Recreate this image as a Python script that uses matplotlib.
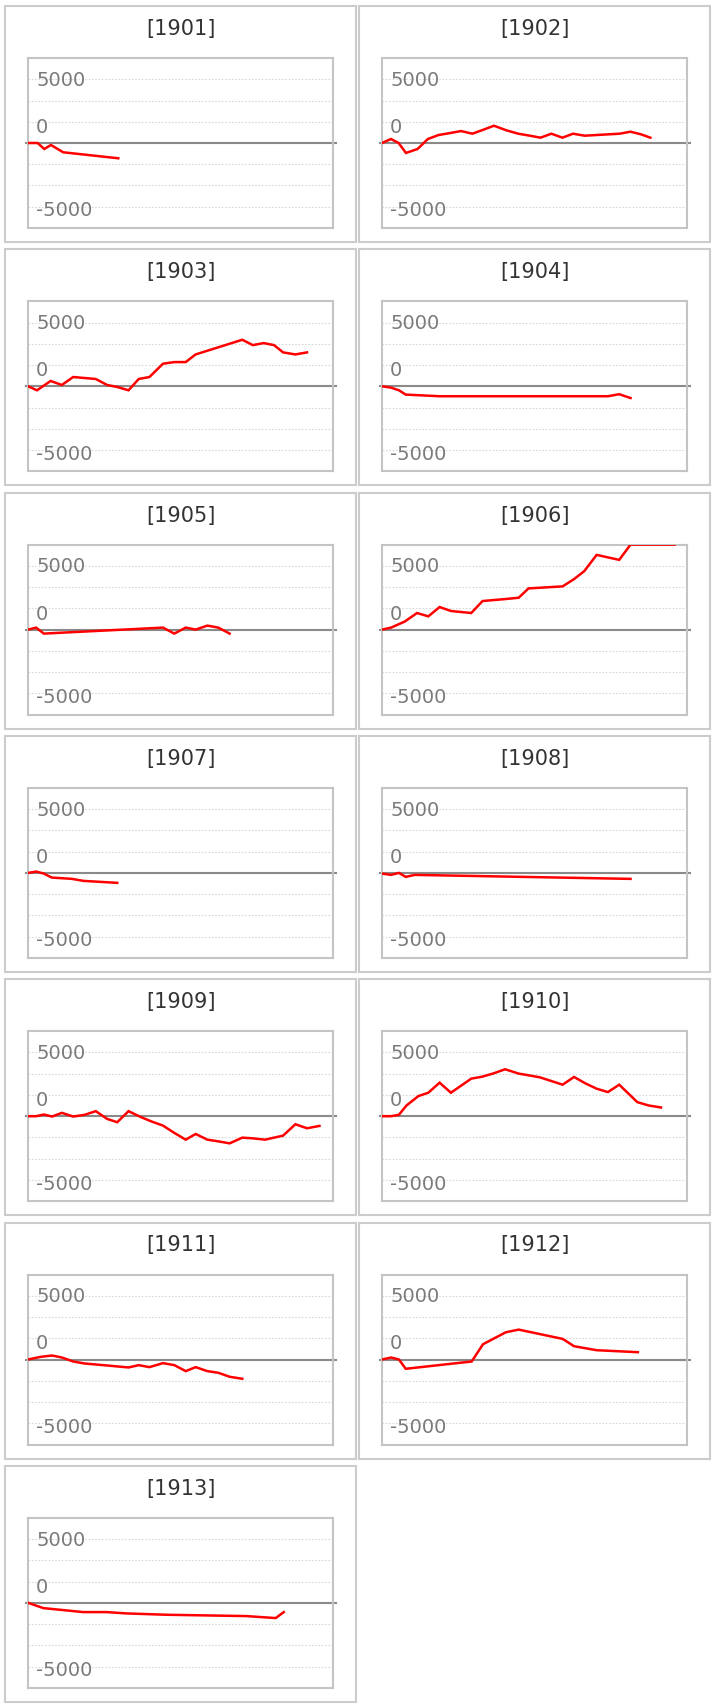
import matplotlib
matplotlib.use('Agg')
import matplotlib.pyplot as plt
from matplotlib.patches import Rectangle
import numpy as np

# ---------------- data ----------------
years = ['1901', '1902', '1903', '1904', '1905', '1906', '1907',
         '1908', '1909', '1910', '1911', '1912', '1913']

x_1901 = [0, 0.85, 1.44, 2.03, 3.12, 7.99]
y_1901 = [0, 0, -469, -156, -729, -1198]

x_1902 = [0, 0.79, 1.47, 2.12, 3.15, 4.06, 5.0, 6.03, 7.0, 8.0, 8.97, 9.91, 11.03,
          12.06, 13.09, 14.03, 15.0, 15.97, 16.91, 17.94, 18.97, 20.0, 21.03, 22.0,
          22.94, 23.76]
y_1902 = [0, 313, 0, -781, -469, 313, 625, 781, 938, 729, 1042, 1354, 990, 729,
          573, 417, 729, 417, 729, 573, 625, 677, 729, 886, 677, 417]

x_1903 = [0, 0.8, 2.0, 3.0, 4.0, 6.0, 7.0, 7.9, 8.9, 9.8, 10.75, 11.95, 12.95,
          13.96, 14.84, 18.97, 19.9, 20.86, 21.78, 22.58, 23.67, 24.7]
y_1903 = [0, -313, 417, 104, 729, 573, 104, -52, -313, 573, 729, 1771, 1900,
          1900, 2500, 3650, 3230, 3390, 3230, 2660, 2500, 2660]

x_1904 = [0, 0.8, 1.5, 2.1, 5.1, 20.0, 21.0, 22.0]
y_1904 = [0, -104, -313, -650, -780, -780, -620, -920]

x_1905 = [0, 0.72, 1.4, 11.95, 12.95, 13.96, 14.84, 15.88, 16.85, 17.85]
y_1905 = [0, 156, -313, 156, -313, 156, 0, 313, 156, -313]

x_1906 = [0, 0.8, 2.0, 3.1, 4.1, 5.1, 6.1, 7.9, 8.9, 10.96, 12.1, 12.97, 15.99,
          17.0, 17.9, 19.0, 21.0, 22.0, 23.0, 24.0, 25.0, 25.9]
y_1906 = [0, 156, 625, 1300, 1040, 1770, 1460, 1300, 2240, 2400, 2500, 3230,
          3390, 3960, 4580, 5860, 5470, 6900, 7300, 7600, 7500, 7800]

x_1907 = [0, 0.72, 1.4, 2.1, 3.9, 4.9, 7.9]
y_1907 = [0, 104, -52, -365, -469, -625, -781]

x_1908 = [0, 0.8, 1.5, 2.1, 2.9, 22.0]
y_1908 = [-52, -156, 0, -313, -156, -469]

x_1909 = [0, 0.72, 1.4, 2.13, 3.0, 4.0, 5.0, 6.0, 7.0, 7.9, 8.9, 9.95, 10.95,
          11.95, 12.96, 13.96, 14.84, 15.88, 16.85, 17.85, 18.97, 19.9, 20.98,
          22.58, 23.67, 24.7, 25.8]
y_1909 = [0, 0, 132, -26, 263, -26, 105, 395, -210, -473, 395, -52, -420, -736,
          -1315, -1841, -1394, -1841, -1973, -2130, -1683, -1736, -1841, -1525,
          -631, -947, -763]

x_1910 = [0, 0.8, 1.49, 2.17, 3.22, 4.1, 5.1, 6.1, 7.9, 8.9, 9.9, 10.9, 12.1,
          12.97, 13.97, 14.98, 15.99, 17.0, 18.0, 19.0, 20.0, 21.0, 22.6, 23.6, 24.7]
y_1910 = [0, 0, 105, 842, 1578, 1841, 2630, 1841, 2946, 3104, 3367, 3682, 3340,
          3209, 3051, 2762, 2472, 3077, 2577, 2157, 1893, 2472, 1105, 842, 684]

x_1911 = [0, 1.12, 2.13, 3.0, 4.0, 5.0, 7.0, 8.9, 9.8, 10.75, 11.95, 12.96,
          13.96, 14.84, 15.88, 16.85, 17.85, 18.97]
y_1911 = [0, 208, 313, 156, -156, -313, -469, -625, -443, -599, -287, -443,
          -912, -599, -912, -1042, -1354, -1511]

x_1912 = [0, 0.8, 1.5, 2.1, 7.94, 8.94, 10.96, 12.1, 16.0, 17.0, 19.0, 22.65]
y_1912 = [0, 156, 0, -729, -156, 1198, 2136, 2344, 1615, 1042, 729, 573]

x_1913 = [0, 1.36, 4.89, 6.96, 8.72, 12.26, 15.8, 19.33, 21.93, 22.64]
y_1913 = [0, -417, -729, -729, -833, -938, -990, -1042, -1198, -729]

series_x = [x_1901, x_1902, x_1903, x_1904, x_1905, x_1906, x_1907,
            x_1908, x_1909, x_1910, x_1911, x_1912, x_1913]
series_y = [y_1901, y_1902, y_1903, y_1904, y_1905, y_1906, y_1907,
            y_1908, y_1909, y_1910, y_1911, y_1912, y_1913]

tick_labels = ['5000', '0', '-5000']
tick_label_pos = [5000, 1300, -5250]
grid_levels = [5000, 3333, 1667, -1667, -3333, -5000]

# ---------------- layout ----------------
W, H = 714, 1708
Y_MAX = 6667
X_MAX = 27
fig = plt.figure(figsize=(W / 100, H / 100), dpi=100)
fig.patch.set_facecolor('white')

BOX_W, BOX_H = 305, 170
PANEL_W, PANEL_H = 351, 236

for i, yr in enumerate(years):
    r, c = divmod(i, 2)
    box_left = 28 + 354 * c
    box_top = 59 + 243.3 * r

    # outer panel border
    fig.add_artist(Rectangle(((box_left - 23) / W, 1 - (box_top - 52 + PANEL_H) / H),
                             PANEL_W / W, PANEL_H / H, transform=fig.transFigure,
                             fill=False, edgecolor='#cccccc', lw=1.5))
    # title
    fig.text((box_left + BOX_W / 2) / W, 1 - (box_top - 30) / H, f'[{yr}]',
             ha='center', va='center', fontsize=15, color='#333333')

    ax = fig.add_axes([box_left / W, 1 - (box_top + BOX_H) / H, BOX_W / W, BOX_H / H])
    ax.set_xlim(0, X_MAX)
    ax.set_ylim(-Y_MAX, Y_MAX)
    ax.set_xticks([])
    ax.set_yticks([])
    for s in ax.spines.values():
        s.set_color('#c4c4c4')
        s.set_linewidth(1.5)
    for g in grid_levels:
        ax.axhline(g, color='#d8d8d8', lw=0.8, ls=(0, (1.5, 1.5)), zorder=1)
    ax.plot([-0.2, X_MAX + 0.25], [0, 0], color='#8a8a8a', lw=1.5,
            clip_on=False, zorder=2)
    for lab, pos in zip(tick_labels, tick_label_pos):
        ax.text(8 / BOX_W, pos, lab, transform=ax.get_yaxis_transform(),
                ha='left', va='center', fontsize=14, color='#7a7a7a', zorder=4)
    yv = np.clip(np.array(series_y[i], dtype=float), -Y_MAX, Y_MAX)
    ax.plot(series_x[i], yv, color='#ff0000', lw=1.8, zorder=3,
            solid_joinstyle='miter')

fig.savefig('out.png', dpi=100, facecolor='white')
